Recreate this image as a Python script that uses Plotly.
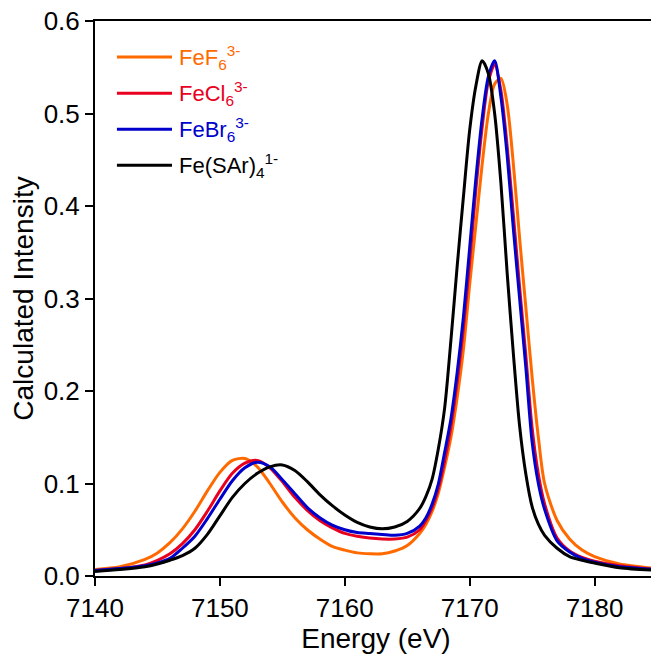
import plotly.graph_objects as go

# Energy grid (eV) shared by all four calculated spectra
energy = [7140, 7142, 7144, 7145, 7146, 7147, 7148, 7149, 7150, 7151, 7152, 7153,
          7154, 7155, 7156, 7157, 7158, 7159, 7160, 7161, 7162, 7163, 7164, 7165,
          7166, 7166.5, 7167, 7167.5, 7168, 7168.5, 7169, 7169.5, 7170, 7170.5,
          7171, 7171.5, 7172, 7172.5, 7173, 7173.5, 7174, 7174.5, 7175, 7175.5,
          7176, 7177, 7178, 7179, 7180, 7182, 7185]

fef6 = [0.007, 0.010, 0.018, 0.025, 0.036, 0.051, 0.070, 0.092, 0.112, 0.125, 0.127, 0.118,
        0.100, 0.080, 0.063, 0.050, 0.040, 0.032, 0.028, 0.025, 0.024, 0.024, 0.027, 0.033,
        0.046, 0.056, 0.070, 0.090, 0.118, 0.150, 0.193, 0.245, 0.315, 0.380,
        0.445, 0.500, 0.532, 0.538, 0.510, 0.445, 0.365, 0.290, 0.215, 0.150,
        0.100, 0.060, 0.040, 0.028, 0.021, 0.013, 0.008]

fecl6 = [0.006, 0.008, 0.012, 0.017, 0.024, 0.035, 0.050, 0.070, 0.092, 0.111, 0.122, 0.125,
         0.117, 0.102, 0.085, 0.071, 0.060, 0.052, 0.046, 0.043, 0.041, 0.040, 0.040, 0.042,
         0.050, 0.060, 0.074, 0.095, 0.125, 0.162, 0.210, 0.268, 0.340, 0.418,
         0.485, 0.535, 0.553, 0.525, 0.465, 0.390, 0.312, 0.238, 0.160, 0.110,
         0.078, 0.041, 0.027, 0.020, 0.016, 0.011, 0.007]

febr6 = [0.006, 0.008, 0.011, 0.014, 0.019, 0.030, 0.043, 0.062, 0.083, 0.103, 0.117, 0.123,
         0.118, 0.104, 0.089, 0.074, 0.063, 0.055, 0.050, 0.047, 0.046, 0.045, 0.044, 0.046,
         0.054, 0.063, 0.078, 0.100, 0.134, 0.170, 0.220, 0.280, 0.355, 0.430,
         0.495, 0.540, 0.557, 0.518, 0.455, 0.375, 0.300, 0.225, 0.145, 0.100,
         0.072, 0.038, 0.026, 0.019, 0.015, 0.010, 0.007]

fesar4 = [0.005, 0.007, 0.010, 0.013, 0.017, 0.022, 0.030, 0.045, 0.065, 0.085, 0.100, 0.111,
          0.118, 0.120, 0.114, 0.102, 0.088, 0.076, 0.066, 0.058, 0.053, 0.051, 0.053, 0.059,
          0.073, 0.086, 0.105, 0.138, 0.182, 0.255, 0.335, 0.410, 0.482, 0.530,
          0.557, 0.543, 0.500, 0.425, 0.328, 0.240, 0.162, 0.110, 0.075, 0.056,
          0.044, 0.030, 0.021, 0.017, 0.014, 0.009, 0.006]

series_names = ['FeF<sub>6</sub><sup>3-</sup>', 'FeCl<sub>6</sub><sup>3-</sup>',
                'FeBr<sub>6</sub><sup>3-</sup>', 'Fe(SAr)<sub>4</sub><sup>1-</sup>']
series_values = [fef6, fecl6, febr6, fesar4]
series_colors = ['#FF6A00', '#E8001E', '#0000CC', '#000000']

x_ticks = [7140, 7150, 7160, 7170, 7180]
y_ticks = [0.0, 0.1, 0.2, 0.3, 0.4, 0.5, 0.6]

FONT = 'Liberation Sans, Arial, sans-serif'

fig = go.Figure()

for name, vals, color in zip(series_names, series_values, series_colors):
    fig.add_trace(go.Scatter(
        x=energy, y=vals, mode='lines', name=name,
        line=dict(color=color, width=3, shape='spline', smoothing=0.8),
        showlegend=False
    ))

# Hand-drawn legend: long line sample + coloured label, top-left of plot
legend_y = [0.935, 0.870, 0.805, 0.740]
for name, color, ly in zip(series_names, series_colors, legend_y):
    fig.add_shape(type='line', xref='paper', yref='paper',
                  x0=0.039, x1=0.137, y0=ly, y1=ly,
                  line=dict(color=color, width=3))
    fig.add_annotation(xref='paper', yref='paper', x=0.146, y=ly,
                       text=name, showarrow=False, xanchor='left', yanchor='middle',
                       font=dict(family=FONT, size=22, color=color))

axis_common = dict(
    showline=True, linecolor='black', linewidth=2, mirror=True,
    ticks='outside', ticklen=8, tickwidth=2, tickcolor='black',
    showgrid=False, zeroline=False, automargin=False,
    ticklabeloverflow='allow',
    tickfont=dict(family=FONT, size=26, color='black'),
)

fig.update_xaxes(range=[7140, 7185], tickvals=x_ticks,
                 title=dict(text='Energy (eV)', font=dict(family=FONT, size=28, color='black'),
                            standoff=5),
                 **axis_common)
fig.update_yaxes(range=[0, 0.6], tickvals=y_ticks, tickformat='.1f',
                 title=dict(text='Calculated Intensity', font=dict(family=FONT, size=28, color='black'),
                            standoff=6),
                 **axis_common)

# page body adds an 8px offset, so the figure is 651px and margins are shifted by 8
fig.update_layout(
    width=651, height=651,
    margin=dict(l=87, r=2, t=13, b=83),
    plot_bgcolor='white', paper_bgcolor='white',
    showlegend=False,
)

fig.write_html("out.html")
